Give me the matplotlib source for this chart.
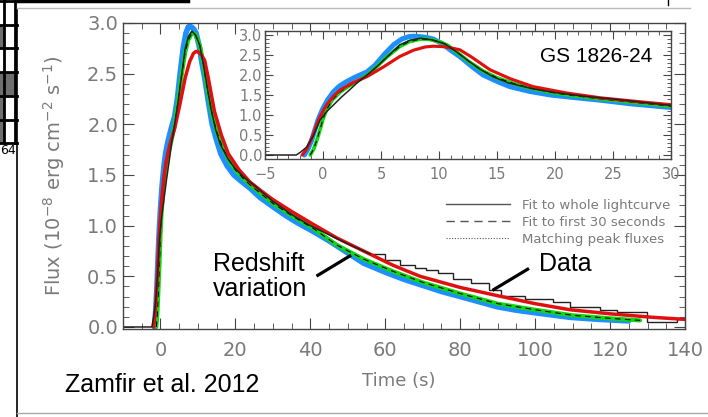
import matplotlib.pyplot as plt
import numpy as np
from matplotlib.lines import Line2D
from matplotlib.patches import Rectangle
from matplotlib.ticker import MultipleLocator

# burst light curve, GS 1826-24
t_blue = [-1.6, -1.3, -1.0, -0.7, -0.4, 0.0, 0.4, 0.9, 1.4, 2.0, 2.8, 3.8, 4.5, 5.3, 6.1, 6.8,
          7.4, 7.8, 8.3, 8.9, 9.5, 10.3, 11.0, 11.8, 12.8, 13.8, 15.0, 16.1, 17.8, 19.6, 21.5,
          23.9, 26.5, 29.9, 33, 36, 40.9, 45, 50, 54.2, 60, 65, 70, 75, 80, 89.8, 95, 100,
          109.3, 117, 125]
f_blue = [0.0, 0.15, 0.35, 0.63, 0.9, 1.17, 1.38, 1.58, 1.72, 1.83, 1.95, 2.08, 2.25, 2.52, 2.76,
          2.90, 2.96, 2.97, 2.96, 2.94, 2.90, 2.78, 2.62, 2.46, 2.22, 2.00, 1.84, 1.71, 1.59, 1.50,
          1.44, 1.37, 1.28, 1.19, 1.11, 1.04, 0.94, 0.85, 0.73, 0.63, 0.54, 0.47, 0.41, 0.35, 0.30,
          0.20, 0.165, 0.14, 0.095, 0.075, 0.06]

t_green = [-1.1, -0.8, -0.5, -0.26, 0.0, 0.3, 0.8, 1.5, 2.2, 3.0, 3.8, 4.6, 5.5, 6.6, 7.4, 8.4,
           9.2, 10.0, 10.7, 11.6, 12.6, 13.8, 15.0, 16.5, 18.2, 20, 22, 24, 27, 30, 35, 40.9,
           47, 54.2, 62, 70, 80, 90, 100, 110, 120, 128]
f_green = [0.0, 0.15, 0.4, 0.63, 0.9, 1.13, 1.38, 1.58, 1.72, 1.85, 2.0, 2.2, 2.45, 2.71, 2.83,
           2.90, 2.89, 2.83, 2.75, 2.56, 2.33, 2.10, 1.93, 1.78, 1.65, 1.55, 1.47, 1.40, 1.31,
           1.22, 1.10, 0.97, 0.81, 0.67, 0.55, 0.44, 0.33, 0.23, 0.17, 0.115, 0.085, 0.065]

t_red = [-1.8, -1.4, -1.0, -0.7, -0.4, 0.0, 0.3, 0.9, 1.5, 2.5, 3.8, 5.2, 6.6, 7.8, 8.8, 9.5,
         10.3, 11.0, 11.8, 12.8, 14.4, 16.2, 18.1, 21, 23.9, 27, 29.9, 35, 40.9, 47, 54.2, 62,
         69.3, 80, 89.8, 100, 109.3, 120, 131.5, 140]
f_red = [0.0, 0.15, 0.4, 0.63, 0.875, 1.1, 1.25, 1.47, 1.63, 1.80, 1.96, 2.2, 2.46, 2.62, 2.70,
         2.72, 2.71, 2.68, 2.63, 2.45, 2.13, 1.90, 1.71, 1.55, 1.43, 1.34, 1.26, 1.14, 1.01,
         0.88, 0.75, 0.61, 0.50, 0.39, 0.31, 0.23, 0.17, 0.13, 0.095, 0.075]

t_data = [-10, -2.3, -1.9, -1.4, -0.8, -0.26, 0.3, 0.9, 1.6, 2.3, 3.0, 3.8, 4.8, 5.7, 6.6, 7.5,
          8.4, 9.4, 10.5, 11.5, 12.5, 13.5, 14.7, 16, 18, 20, 22.5, 25, 27.5, 30, 35, 40, 45,
          50, 56]
f_data = [0.0, 0.0, 0.08, 0.2, 0.5, 0.87, 1.08, 1.25, 1.45, 1.63, 1.82, 2.0, 2.25, 2.5, 2.75,
          2.87, 2.92, 2.88, 2.78, 2.58, 2.36, 2.15, 1.95, 1.80, 1.66, 1.56, 1.47, 1.40, 1.32,
          1.24, 1.11, 1.00, 0.91, 0.82, 0.72]

# binned data in the tail
bin_edges = [56, 60, 64, 68, 71, 74, 78, 83, 87.6, 91, 97.3, 104.9, 109.3, 117.3, 121.8, 129.8,
             137.8, 140]
bin_flux = [0.72, 0.66, 0.61, 0.58, 0.56, 0.53, 0.47, 0.43, 0.36, 0.31, 0.28, 0.25, 0.20, 0.17,
            0.145, 0.05, 0.075]

legend_labels = ["Fit to whole lightcurve", "Fit to first 30 seconds", "Matching peak fluxes"]

GRAY = "#7a7a7a"
BLUE = "#1e8fff"
GREEN = "#10d810"
RED = "#e01010"

fig = plt.figure(figsize=(7.08, 4.17), dpi=100)

# screenshot background bits (pixel coords)
bg = fig.add_axes([0, 0, 1, 1])
bg.set_xlim(0, 708)
bg.set_ylim(417, 0)
bg.axis("off")
for (x0, y0, w, h) in [(0, 25, 4, 23), (0, 72, 16, 24), (0, 96, 4, 24), (0, 120, 4, 23)]:
    bg.add_patch(Rectangle((x0, y0), w, h, color="#6e6e6e", lw=0))
for yy in [1, 25, 48, 72, 96, 120, 143]:
    bg.plot([0, 17], [yy, yy], color="black", lw=2)
bg.plot([4, 4], [0, 143], color="black", lw=2)
bg.plot([15, 15], [0, 143], color="black", lw=2)
bg.plot([17, 188], [1.2, 1.2], color="black", lw=2.5)
bg.text(0, 151, "64", fontsize=9, va="center", ha="left")
bg.plot([17, 17], [10, 417], color="black", lw=1.2)
bg.plot([17, 690], [8, 8], color="#bbbbbb", lw=1)
bg.plot([17, 708], [413, 413], color="#aaaaaa", lw=1)
bg.plot([668, 668], [0, 5], color="black", lw=1)


def style(ax, lsize):
    for s in ax.spines.values():
        s.set_color("#444444")
        s.set_linewidth(1.0)
    ax.tick_params(which="both", direction="in", top=True, right=True, colors="#444444",
                   labelcolor=GRAY, labelsize=lsize)
    ax.tick_params(which="major", length=8)
    ax.tick_params(which="minor", length=4)


def draw_curves(ax, lw_scale=1.0):
    kw = dict(solid_joinstyle="round", solid_capstyle="round")
    ax.plot(t_blue, f_blue, color=BLUE, lw=4 * lw_scale, **kw)
    ax.plot(t_green, f_green, color=GREEN, lw=3 * lw_scale, **kw)
    ax.plot(t_green, f_green, color="black", lw=0.8, ls=(0, (5, 4)))
    ax.plot(t_red, f_red, color=RED, lw=2.5 * lw_scale, **kw)
    ax.plot(t_data, f_data, color="#222222", lw=1.1, **kw)


ax = fig.add_axes([123 / 708, 1 - 329 / 417, 562 / 708, 306 / 417])
draw_curves(ax)
ax.stairs(bin_flux, bin_edges, baseline=None, color="#222222", lw=1.0)
ax.set_xlim(-10, 140)
ax.set_ylim(-0.02, 3.0)
ax.xaxis.set_major_locator(MultipleLocator(20))
ax.xaxis.set_minor_locator(MultipleLocator(5))
ax.yaxis.set_major_locator(MultipleLocator(0.5))
ax.yaxis.set_minor_locator(MultipleLocator(0.1))
ax.yaxis.set_major_formatter(lambda v, p: f"{v:.1f}")
style(ax, 14)
ax.tick_params(axis="x", pad=9)
ax.set_xlabel("Time (s)", color=GRAY, fontsize=13)
ax.xaxis.set_label_coords(0.49, -0.14)
ax.set_ylabel(r"Flux (10$^{-8}$ erg cm$^{-2}$ s$^{-1}$)", color=GRAY, fontsize=14)
ax.yaxis.set_label_coords(-0.1, 0.5)

handles = [Line2D([], [], color="#555555", lw=1, ls="-"),
           Line2D([], [], color="#555555", lw=1, ls=(0, (6, 4))),
           Line2D([], [], color="#555555", lw=0.8, ls=(0, (1, 1.5)))]
leg = ax.legend(handles, legend_labels, loc="upper right", frameon=False, fontsize=9.5,
                bbox_to_anchor=((670 - 123) / 562, (329 - 199) / 306), borderpad=0,
                borderaxespad=0, handlelength=4.8, handletextpad=0.9, labelspacing=0.3)
for txt in leg.get_texts():
    txt.set_color(GRAY)

ann = dict(fontsize=18, family="Liberation Sans", color="black")
ax.text(14, 0.50, "Redshift\nvariation", ha="left", va="center", linespacing=1.05, **ann)
ax.text(108, 0.62, "Data", ha="center", va="center", **ann)
ax.plot([42, 50.5], [0.51, 0.70], color="black", lw=2.3)
ax.plot([89, 98], [0.37, 0.57], color="black", lw=2.3)
fig.text(65 / 708, 1 - 385 / 417, "Zamfir et al. 2012", ha="left", va="center", **ann)

# inset: zoom on the burst rise
ins = fig.add_axes([265 / 708, 1 - 159 / 417, 406 / 708, 128 / 417])
draw_curves(ins, 0.9)
ins.set_xlim(-5, 30)
ins.set_ylim(-0.1, 3.1)
ins.xaxis.set_major_locator(MultipleLocator(5))
ins.xaxis.set_minor_locator(MultipleLocator(1))
ins.yaxis.set_major_locator(MultipleLocator(0.5))
ins.yaxis.set_minor_locator(MultipleLocator(0.1))
ins.yaxis.set_major_formatter(lambda v, p: f"{v:.1f}")
style(ins, 10.5)
ins.tick_params(which="major", length=6)
ins.tick_params(which="minor", length=3)
ins.tick_params(axis="y", pad=2)
ins.tick_params(axis="x", pad=6)
ins.text(0.955, 0.8, "GS 1826-24", transform=ins.transAxes, ha="right", va="center",
         fontsize=15, family="Liberation Sans", color="black")

fig.savefig("out.png", dpi=100)
